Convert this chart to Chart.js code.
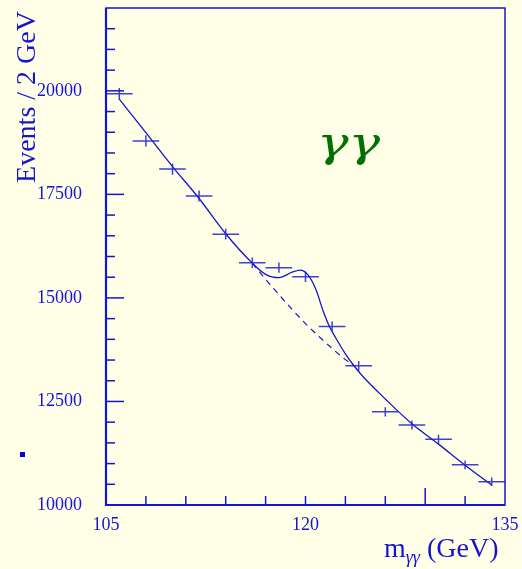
<!DOCTYPE html>
<html>
<head>
<meta charset="utf-8">
<script src="https://cdn.jsdelivr.net/npm/chart.js@4/dist/chart.umd.min.js"></script>
<style>
  html, body { margin: 0; padding: 0; background: #ffffe8; }
</style>
</head>
<body>
<canvas id="chart" width="522" height="569"></canvas>
<script>
// Measured bins (2 GeV wide)
const binCenters = [106, 108, 110, 112, 114, 116, 118, 120, 122, 124, 126, 128, 130, 132, 134];
const events = [19930, 18790, 18110, 17460, 16540, 15850, 15730, 15510, 14310, 13360, 12250, 11930, 11590, 10970, 10560];
const eventErrors = [140, 137, 135, 132, 129, 126, 125, 125, 120, 116, 111, 109, 108, 105, 103];
const binHalfWidth = 1;

// Fit: background + signal (solid)
const fitMass = [106, 108, 110, 112, 114, 116, 117, 118, 119, 119.6, 120.2, 120.8, 121.3, 121.8, 122.3, 123, 123.6, 124.3, 126, 128, 130, 132, 134];
const fitEvents = [19800, 18990, 18170, 17400, 16550, 15840, 15570, 15490, 15620, 15670, 15550, 15190, 14710, 14310, 14020, 13650, 13380, 13110, 12560, 11960, 11470, 10960, 10480];

// Fit: background only (dashed)
const bkgMass = [116, 117, 118, 119, 120, 121, 122, 123, 123.6];
const bkgEvents = [15840, 15450, 15080, 14720, 14380, 14070, 13780, 13510, 13370];

// Axis labels
const xTickLabels = [105, 120, 135];
const yTickLabels = [10000, 12500, 15000, 17500, 20000];
const longXTick = 129;

const BLUE = '#1414d2';
const SERIF = '"Liberation Serif", "DejaVu Serif", serif';

const decorPlugin = {
    id: 'decor',
    beforeDraw(chart) {
        const ctx = chart.ctx;
        ctx.save();
        ctx.fillStyle = '#ffffe8';
        ctx.fillRect(0, 0, chart.width, chart.height);
        ctx.restore();
    },
    afterDatasetsDraw(chart) {
        const ctx = chart.ctx;
        const xs = chart.scales.x;
        const ys = chart.scales.y;

        // error crosses
        ctx.save();
        ctx.strokeStyle = 'rgba(30,30,210,0.85)';
        ctx.lineWidth = 1.5;
        chart.getDatasetMeta(2).data.forEach((pt, i) => {
            const x0 = xs.getPixelForValue(binCenters[i] - binHalfWidth);
            const x1 = xs.getPixelForValue(binCenters[i] + binHalfWidth);
            const y0 = ys.getPixelForValue(events[i] - eventErrors[i]);
            const y1 = ys.getPixelForValue(events[i] + eventErrors[i]);
            ctx.beginPath();
            ctx.moveTo(x0, pt.y);
            ctx.lineTo(x1, pt.y);
            ctx.moveTo(pt.x, y0);
            ctx.lineTo(pt.x, y1);
            ctx.stroke();
        });
        ctx.restore();
    },
    afterDraw(chart) {
        const ctx = chart.ctx;
        const xs = chart.scales.x;
        const ys = chart.scales.y;
        const a = chart.chartArea;

        ctx.save();
        ctx.strokeStyle = BLUE;

        // inner ticks
        ctx.lineWidth = 1.5;
        ys.ticks.forEach(t => {
            if (t.value <= ys.min || t.value >= ys.max) return;
            const y = ys.getPixelForValue(t.value);
            const len = t.value % 2500 === 0 ? 18 : 9;
            ctx.beginPath();
            ctx.moveTo(a.left, y);
            ctx.lineTo(a.left + len, y);
            ctx.stroke();
        });
        xs.ticks.forEach(t => {
            if (t.value <= xs.min || t.value >= xs.max) return;
            const x = xs.getPixelForValue(t.value);
            const len = t.value === longXTick ? 17 : 9;
            ctx.beginPath();
            ctx.moveTo(x, a.bottom);
            ctx.lineTo(x, a.bottom - len);
            ctx.stroke();
        });

        // frame
        ctx.lineWidth = 1.5;
        ctx.strokeRect(a.left, a.top, a.right - a.left, a.bottom - a.top);
        ctx.lineWidth = 2.2;
        ctx.beginPath();
        ctx.moveTo(a.left, a.top);
        ctx.lineTo(a.left, a.bottom);
        ctx.lineTo(a.right, a.bottom);
        ctx.stroke();

        // y title
        ctx.fillStyle = BLUE;
        ctx.save();
        ctx.translate(35, 97);
        ctx.rotate(-Math.PI / 2);
        ctx.font = '28px ' + SERIF;
        ctx.textAlign = 'center';
        ctx.textBaseline = 'alphabetic';
        ctx.fillText('Events / 2 GeV', 0, 0);
        ctx.restore();

        // x title with subscript
        ctx.textBaseline = 'alphabetic';
        ctx.textAlign = 'left';
        let x = 384;
        ctx.font = '28px ' + SERIF;
        ctx.fillText('m', x, 557);
        x += ctx.measureText('m').width;
        ctx.font = 'italic 18px ' + SERIF;
        ctx.fillText('\u03b3\u03b3', x, 563);
        x += ctx.measureText('\u03b3\u03b3').width;
        ctx.font = '28px ' + SERIF;
        ctx.fillText(' (GeV)', x, 557);

        // channel label
        ctx.save();
        ctx.fillStyle = '#007000';
        ctx.translate(317, 156);
        ctx.scale(1.15, 0.88);
        ctx.font = 'italic 46px "DejaVu Serif", serif';
        ctx.fillText('\u03b3\u03b3', 0, 0);
        ctx.restore();

        // stray marker
        ctx.fillStyle = '#0000d0';
        ctx.fillRect(20, 452, 5, 5);
        ctx.restore();
    }
};

new Chart(document.getElementById('chart'), {
    data: {
        datasets: [
            {
                type: 'line',
                data: fitMass.map((m, i) => ({ x: m, y: fitEvents[i] })),
                borderColor: BLUE,
                borderWidth: 1.3,
                pointRadius: 0,
                fill: false,
                cubicInterpolationMode: 'monotone'
            },
            {
                type: 'line',
                data: bkgMass.map((m, i) => ({ x: m, y: bkgEvents[i] })),
                borderColor: BLUE,
                borderWidth: 1.2,
                borderDash: [6, 5],
                pointRadius: 0,
                fill: false,
                cubicInterpolationMode: 'monotone'
            },
            {
                type: 'scatter',
                data: binCenters.map((m, i) => ({ x: m, y: events[i] })),
                pointRadius: 0,
                showLine: false
            }
        ]
    },
    options: {
        responsive: false,
        devicePixelRatio: 1,
        animation: false,
        events: [],
        layout: { padding: { top: 8, right: 17, left: 0, bottom: 0 } },
        plugins: {
            legend: { display: false },
            tooltip: { enabled: false }
        },
        scales: {
            x: {
                type: 'linear',
                min: 105,
                max: 135,
                afterFit: s => {
                    s.height = 64;
                    s.paddingLeft = 0;
                    s.paddingRight = 0;
                },
                grid: { display: false, drawTicks: false },
                border: { display: false },
                ticks: {
                    stepSize: 3,
                    autoSkip: false,
                    maxRotation: 0,
                    padding: 9,
                    color: BLUE,
                    font: { family: SERIF, size: 18 },
                    callback: v => xTickLabels.includes(v) ? String(v) : ''
                }
            },
            y: {
                type: 'linear',
                min: 10000,
                max: 22000,
                afterFit: s => {
                    s.width = 106;
                    s.paddingTop = 0;
                    s.paddingBottom = 0;
                },
                grid: { display: false, drawTicks: false },
                border: { display: false },
                ticks: {
                    stepSize: 500,
                    autoSkip: false,
                    padding: 24,
                    color: BLUE,
                    font: { family: SERIF, size: 18 },
                    callback: v => yTickLabels.includes(v) ? String(v) : ''
                }
            }
        }
    },
    plugins: [decorPlugin]
});
</script>
</body>
</html>
